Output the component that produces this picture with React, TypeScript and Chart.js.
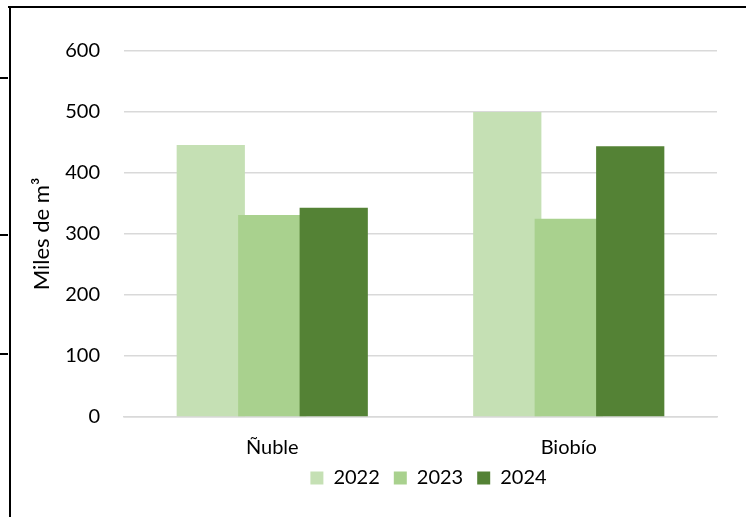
import React, { useEffect, useRef } from "react";
import { Chart, registerables } from "chart.js";

Chart.register(...registerables);

const categories = ["Ñuble", "Biobío"];
const seriesLabels = ["2022", "2023", "2024"];
const values2022 = [446, 500];
const values2023 = [331, 325];
const values2024 = [343, 444];
const seriesColors = ["#c5e0b4", "#a9d18e", "#548235"];
const yMin = 0;
const yMax = 600;
const yStep = 100;
const yTitle = "Miles de m³";

const FONT = "Lato";
const TEXT = "#000000";

// Draw later series on top of earlier ones (Excel-style overlap)
const forwardDrawOrder = {
  id: "forwardDrawOrder",
  beforeDatasetsDraw(chart: any) {
    const metas = chart.getSortedVisibleDatasetMetas();
    const ctx = chart.ctx;
    const a = chart.chartArea;
    ctx.save();
    ctx.beginPath();
    ctx.rect(a.left, a.top - 2, a.right - a.left, a.bottom - a.top + 2);
    ctx.clip();
    for (const m of metas) m.controller.draw();
    ctx.restore();
    return false;
  },
};

// Nudge the legend so it sits under the plot like the original
const legendNudge = {
  id: "legendNudge",
  afterLayout(chart: any) {
    const lg = chart.legend;
    if (lg) {
      lg.top -= 8;
      lg.bottom -= 8;
      lg.left += 70;
      lg.right += 70;
    }
  },
};

export default function App() {
  const ref = useRef<HTMLCanvasElement | null>(null);

  useEffect(() => {
    if (!ref.current) return;
    const font = { family: FONT, size: 20 };
    const chart = new Chart(ref.current, {
      type: "bar",
      data: {
        labels: categories,
        datasets: [values2022, values2023, values2024].map((d, i) => ({
          label: seriesLabels[i],
          data: d,
          backgroundColor: seriesColors[i],
          borderWidth: 0,
          barPercentage: 1.11,
          categoryPercentage: 0.622,
        })),
      },
      plugins: [forwardDrawOrder, legendNudge],
      options: {
        responsive: false,
        animation: false,
        devicePixelRatio: 1,
        layout: { padding: { top: 51, right: 29, left: 0, bottom: 11 } },
        plugins: {
          tooltip: { enabled: false },
          legend: {
            position: "bottom",
            labels: {
              boxWidth: 13,
              boxHeight: 13,
              padding: 14,
              font,
              color: TEXT,
            },
          },
        },
        scales: {
          x: {
            grid: { display: false, drawTicks: false },
            border: { color: "#d9d9d9", width: 1.5 },
            ticks: { font, color: TEXT, padding: 19 },
            afterFit: (s: any) => {
              s.height = 45;
            },
          },
          y: {
            min: yMin,
            max: yMax,
            ticks: { stepSize: yStep, font, color: TEXT, padding: 24 },
            grid: { color: "#d9d9d9", lineWidth: 1.5, drawTicks: false },
            border: { display: false },
            title: {
              display: true,
              text: yTitle,
              font: { family: FONT, size: 22 },
              color: TEXT,
              padding: { top: 29, bottom: 0 },
            },
            afterFit: (s: any) => {
              s.width = 124;
            },
          },
        },
      },
    });
    return () => chart.destroy();
  }, []);

  const line = (style: React.CSSProperties) => (
    <div style={{ position: "absolute", background: "#000", ...style }} />
  );

  return (
    <div style={{ position: "fixed", left: 0, top: 0, width: 746, height: 517, background: "#fff" }}>
      <canvas ref={ref} width={746} height={517} style={{ width: 746, height: 517, display: "block" }} />
      {line({ left: 8, right: 0, top: 6, height: 2 })}
      {line({ left: 9, top: 6, bottom: 0, width: 2 })}
      {line({ left: 0, top: 77, width: 8, height: 2 })}
      {line({ left: 0, top: 234, width: 8, height: 2 })}
      {line({ left: 0, top: 353, width: 8, height: 2 })}
    </div>
  );
}
